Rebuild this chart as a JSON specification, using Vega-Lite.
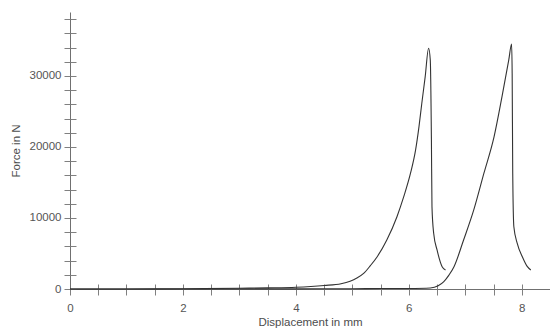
{
  "$schema": "https://vega.github.io/schema/vega-lite/v6.json",
  "width": 480,
  "height": 277,
  "autosize": {"type": "none"},
  "padding": {"left": 70, "top": 12, "right": 0, "bottom": 45},
  "background": "white",
  "config": {
    "view": {"stroke": null},
    "font": "Liberation Sans",
    "axis": {
      "grid": false,
      "domainColor": "#707070",
      "tickColor": "#808080",
      "labelColor": "#555555",
      "titleColor": "#4d4d4d",
      "labelFontSize": 11.5,
      "titleFontSize": 11.5,
      "titleFontWeight": "normal",
      "labelFlush": false,
      "labelOverlap": false
    }
  },
  "datasets": {
    "a": [
      {"d": 0, "f": 0}, {"d": 1, "f": 10}, {"d": 2, "f": 40}, {"d": 3, "f": 100},
      {"d": 3.5, "f": 160}, {"d": 4, "f": 250}, {"d": 4.5, "f": 500}, {"d": 4.8, "f": 750},
      {"d": 4.96, "f": 1100}, {"d": 5.08, "f": 1550}, {"d": 5.2, "f": 2200}, {"d": 5.32, "f": 3300},
      {"d": 5.44, "f": 4550}, {"d": 5.61, "f": 6900}, {"d": 5.79, "f": 10180}, {"d": 5.91, "f": 13000},
      {"d": 6.03, "f": 16300}, {"d": 6.12, "f": 19580}, {"d": 6.18, "f": 22860}, {"d": 6.23, "f": 26150},
      {"d": 6.29, "f": 29900}, {"d": 6.35, "f": 33900}, {"d": 6.38, "f": 32250}, {"d": 6.40, "f": 21000},
      {"d": 6.41, "f": 11600}, {"d": 6.44, "f": 7850}, {"d": 6.50, "f": 5500}, {"d": 6.59, "f": 3140},
      {"d": 6.65, "f": 2680}
    ],
    "b": [
      {"d": 0, "f": 0}, {"d": 2, "f": 0}, {"d": 4, "f": 20}, {"d": 5, "f": 40},
      {"d": 5.5, "f": 60}, {"d": 6, "f": 80}, {"d": 6.38, "f": 150}, {"d": 6.52, "f": 450},
      {"d": 6.62, "f": 1030}, {"d": 6.71, "f": 1950}, {"d": 6.80, "f": 3140}, {"d": 6.97, "f": 6900},
      {"d": 7.15, "f": 11130}, {"d": 7.33, "f": 16300}, {"d": 7.51, "f": 21450}, {"d": 7.65, "f": 27080},
      {"d": 7.77, "f": 32250}, {"d": 7.82, "f": 34500}, {"d": 7.83, "f": 30380}, {"d": 7.84, "f": 16300},
      {"d": 7.86, "f": 8770}, {"d": 7.92, "f": 6430}, {"d": 8.01, "f": 4550}, {"d": 8.10, "f": 3140},
      {"d": 8.16, "f": 2680}
    ]
  },
  "layer": [
    {
      "data": {"name": "a"},
      "mark": {"type": "line", "color": "#333333", "strokeWidth": 1.1, "interpolate": "monotone"},
      "encoding": {
        "x": {
          "field": "d", "type": "quantitative",
          "scale": {"domain": [0, 8.5], "nice": false, "zero": false},
          "axis": {
            "orient": "bottom",
            "values": [0, 0.5, 1, 1.5, 2, 2.5, 3, 3.5, 4, 4.5, 5, 5.5, 6, 6.5, 7, 7.5, 8, 8.5],
            "labelExpr": "datum.value % 2 === 0 ? format(datum.value, 'd') : ''",
            "tickSize": 6,
            "labelPadding": 7,
            "title": "Displacement in mm",
            "titlePadding": 3
          }
        },
        "y": {
          "field": "f", "type": "quantitative",
          "scale": {"domain": [0, 39000], "nice": false},
          "axis": {
            "orient": "left",
            "values": [0, 2000, 4000, 6000, 8000, 10000, 12000, 14000, 16000, 18000, 20000, 22000, 24000, 26000, 28000, 30000, 32000, 34000, 36000, 38000],
            "labelExpr": "datum.value % 10000 === 0 ? format(datum.value, 'd') : ''",
            "tickSize": 6,
            "labelPadding": 3,
            "title": "Force in N",
            "titlePadding": 8
          }
        }
      }
    },
    {
      "data": {"name": "b"},
      "mark": {"type": "line", "color": "#333333", "strokeWidth": 1.1, "interpolate": "monotone"},
      "encoding": {
        "x": {
          "field": "d", "type": "quantitative",
          "axis": {
            "orient": "bottom",
            "values": [0, 0.5, 1, 1.5, 2, 2.5, 3, 3.5, 4, 4.5, 5, 5.5, 6, 6.5, 7, 7.5, 8, 8.5],
            "tickSize": -5,
            "labels": false,
            "domain": false,
            "title": null
          }
        },
        "y": {
          "field": "f", "type": "quantitative",
          "axis": {
            "orient": "left",
            "values": [0, 2000, 4000, 6000, 8000, 10000, 12000, 14000, 16000, 18000, 20000, 22000, 24000, 26000, 28000, 30000, 32000, 34000, 36000, 38000],
            "tickSize": -6,
            "labels": false,
            "domain": false,
            "title": null
          }
        }
      }
    }
  ],
  "resolve": {"axis": {"x": "independent", "y": "independent"}}
}
